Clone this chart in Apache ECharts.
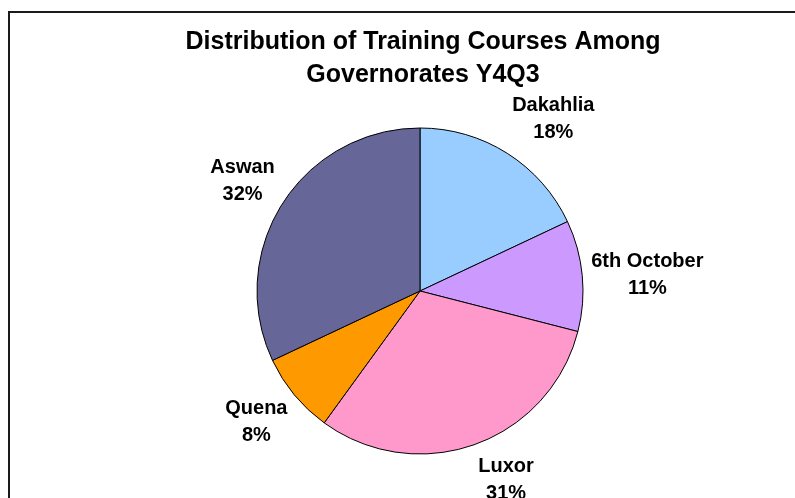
<!DOCTYPE html>
<html>
<head>
<meta charset="utf-8">
<script src="https://cdn.jsdelivr.net/npm/echarts@6/dist/echarts.min.js"></script>
<style>
  html, body { margin: 0; padding: 0; background: #fff; }
  #chart { width: 795px; height: 498px; }
</style>
</head>
<body>
<div id="chart"></div>
<script>
// governorates, clockwise from 12 o'clock
const regions = ['Dakahlia', '6th October', 'Luxor', 'Quena', 'Aswan'];
const shares = [18, 11, 31, 8, 32];
const sliceColors = ['#99CCFF', '#CC99FF', '#FF99CC', '#FF9900', '#666699'];

const pieCenter = [420, 291];
const pieRadius = 163;
const labelGap = 9;

const chart = echarts.init(document.getElementById('chart'));

// mid angle of every slice, clockwise from the top (radians)
const total = shares.reduce((a, b) => a + b, 0);
const midAngles = [];
let acc = 0;
shares.forEach(v => {
  midAngles.push((acc + v / 2) / total * Math.PI * 2);
  acc += v;
});

// excel-like "outside end": the label box sits just beyond the rim,
// with its nearest corner (or edge) close to the slice's mid ray
function sat(c, k) {
  const m = Math.min(1, Math.max(0, (Math.abs(c) - 0.1) * k));
  return c < 0 ? -m : m;
}

const option = {
  backgroundColor: '#fff',
  animation: false,
  title: {
    text: 'Distribution of Training Courses Among\nGovernorates Y4Q3',
    left: 418,
    top: 21,
    textAlign: 'center',
    textStyle: {
      fontFamily: 'Liberation Sans, Arial, sans-serif',
      fontWeight: 'bold',
      fontSize: 25,
      lineHeight: 33,
      color: '#000'
    }
  },
  // chart area frame (cropped at right and bottom)
  graphic: [{
    type: 'rect',
    shape: { x: 9, y: 12, width: 900, height: 700 },
    style: { fill: 'none', stroke: '#1a1a1a', lineWidth: 2 },
    silent: true
  }],
  series: [{
    type: 'pie',
    center: pieCenter,
    radius: pieRadius,
    startAngle: 90,
    clockwise: true,
    avoidLabelOverlap: false,
    data: regions.map((name, i) => ({
      name: name,
      value: shares[i],
      itemStyle: { color: sliceColors[i] }
    })),
    itemStyle: { borderColor: '#000', borderWidth: 1 },
    label: {
      show: true,
      position: 'outside',
      formatter: '{b}\n{d}%',
      fontFamily: 'Liberation Sans, Arial, sans-serif',
      fontWeight: 'bold',
      fontSize: 20,
      lineHeight: 27,
      color: '#000'
    },
    labelLine: { show: false },
    labelLayout: function (p) {
      const a = midAngles[p.dataIndex];
      const s = Math.sin(a), c = -Math.cos(a);
      const d = pieRadius + labelGap;
      const w = p.labelRect.width, h = p.labelRect.height;
      return {
        x: pieCenter[0] + d * s + sat(s, 4.5) * w / 2,
        y: pieCenter[1] + d * c + sat(c, 1.5) * h / 2,
        align: 'center',
        verticalAlign: 'middle'
      };
    },
    emphasis: { disabled: true }
  }]
};

chart.setOption(option);
</script>
</body>
</html>
